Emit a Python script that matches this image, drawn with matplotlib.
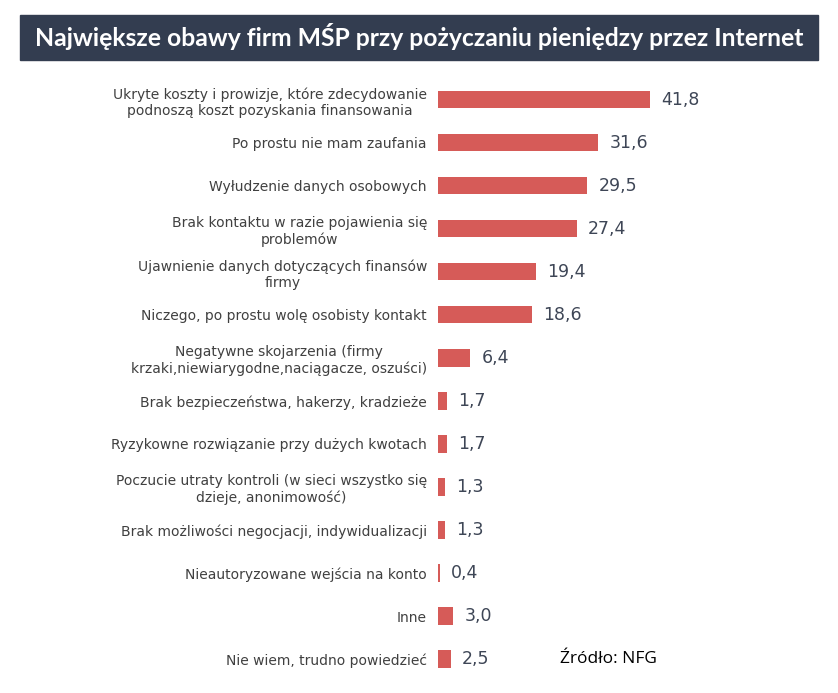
import matplotlib.pyplot as plt
from matplotlib.patches import Rectangle

categories = [
    "Ukryte koszty i prowizje, które zdecydowanie\npodnoszą koszt pozyskania finansowania",
    "Po prostu nie mam zaufania",
    "Wyłudzenie danych osobowych",
    "Brak kontaktu w razie pojawienia się\nproblemów",
    "Ujawnienie danych dotyczących finansów\nfirmy",
    "Niczego, po prostu wolę osobisty kontakt",
    "Negatywne skojarzenia (firmy\nkrzaki,niewiarygodne,naciągacze, oszuści)",
    "Brak bezpieczeństwa, hakerzy, kradzieże",
    "Ryzykowne rozwiązanie przy dużych kwotach",
    "Poczucie utraty kontroli (w sieci wszystko się\ndzieje, anonimowość)",
    "Brak możliwości negocjacji, indywidualizacji",
    "Nieautoryzowane wejścia na konto",
    "Inne",
    "Nie wiem, trudno powiedzieć",
]
values = [41.8, 31.6, 29.5, 27.4, 19.4, 18.6, 6.4, 1.7, 1.7, 1.3, 1.3, 0.4, 3.0, 2.5]
value_labels = ["41,8", "31,6", "29,5", "27,4", "19,4", "18,6", "6,4",
                "1,7", "1,7", "1,3", "1,3", "0,4", "3,0", "2,5"]

title = "Największe obawy firm MŚP przy pożyczaniu pieniędzy przez Internet"
source = "Źródło: NFG"

fig = plt.figure(figsize=(8.38, 6.93), dpi=100)
ax = fig.add_axes([438 / 838, 0.018, 304 / 838, 0.869])

ypos = list(range(len(categories)))
ax.barh(ypos, values, height=0.4, color="#d65b58")
for y, v, lab in zip(ypos, values, value_labels):
    ax.text(v + 2.2, y, lab, va="center", ha="left", fontsize=12.5,
            color="#3e4656")

ax.set_xlim(0, 60)
ax.set_ylim(len(categories) - 0.5, -0.5)
ax.set_yticks(ypos)
ax.set_yticklabels(categories, fontsize=10, color="#404040", ha="right",
                   multialignment="center", linespacing=1.2)
ax.tick_params(axis="y", length=0, pad=8)
ax.set_xticks([])
for s in ax.spines.values():
    s.set_visible(False)

# title bar
fig.patches.append(Rectangle((20 / 838, 1 - 60 / 693), 798 / 838, 45 / 693,
                             transform=fig.transFigure, color="#333d50",
                             zorder=0))
fig.text(0.5, 1 - 37 / 693, title, ha="center", va="center", color="white",
         fontsize=17.8, fontweight="bold", family="Lato")

fig.text(560 / 838, 1 - 659 / 693, source, ha="left", va="center",
         fontsize=12.5, color="black", family="Open Sans")

fig.savefig("out.png", dpi=100)
